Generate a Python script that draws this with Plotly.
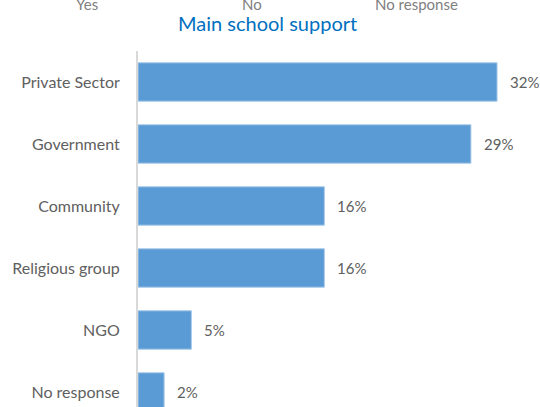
import plotly.graph_objects as go

categories = ["Private Sector", "Government", "Community", "Religious group", "NGO", "No response"]
values = [31.6, 29.3, 16.4, 16.4, 4.7, 2.3]
labels = ["32%", "29%", "16%", "16%", "5%", "2%"]
legend_items = ["Yes", "No", "No response"]
legend_x = [87, 252, 416]
title_text = "Main school support"

FONT = "Lato"
W, H = 540, 407
ML, MR, MT, MB = 138, 10, 51, 0
plot_w = W - ML - MR
plot_h = H - MT - MB
n_visible = plot_h / 62.0

fig = go.Figure()
fig.add_trace(go.Bar(
    y=categories, x=values, orientation="h",
    marker=dict(color="#5B9BD5", line=dict(color="#A9CBEA", width=1)),
    hoverinfo="skip",
))

annotations = []
for c, v, t in zip(categories, values, labels):
    annotations.append(dict(x=v, y=c, xref="x", yref="y", text=t, showarrow=False,
                            xanchor="left", yanchor="middle", xshift=11,
                            font=dict(family=FONT, size=15, color="#606060")))

annotations.append(dict(x=(267 - ML) / plot_w, xref="paper", xanchor="center",
                        y=1 + (MT - 23) / plot_h, yref="paper", yanchor="middle",
                        text=title_text, showarrow=False,
                        font=dict(family=FONT, size=20, color="#0070C0")))
for t, px in zip(legend_items, legend_x):
    annotations.append(dict(x=(px - ML) / plot_w, xref="paper", xanchor="center",
                            y=1 + (MT - 4) / plot_h, yref="paper", yanchor="middle",
                            text=t, showarrow=False,
                            font=dict(family=FONT, size=15, color="#808080")))

fig.update_layout(
    width=W, height=H,
    margin=dict(l=ML, r=MR, t=MT, b=MB, pad=0, autoexpand=False),
    paper_bgcolor="white", plot_bgcolor="white",
    showlegend=False,
    bargap=0.38,
    font=dict(family=FONT, size=16, color="#606060"),
    xaxis=dict(range=[0, 34.5], showgrid=False, zeroline=False, showticklabels=False,
               showline=False, fixedrange=True),
    yaxis=dict(type="category", range=[-0.5 + n_visible, -0.5], showgrid=False,
               zeroline=False, showline=True, linecolor="#D9D9D9", linewidth=2,
               ticks="outside", ticklen=13, tickcolor="rgba(0,0,0,0)", automargin=False,
               tickfont=dict(family=FONT, size=16, color="#606060"), fixedrange=True),
    annotations=annotations,
)

fig.write_html("out.html", config={"displayModeBar": False},
               post_script="document.body.style.margin='0';document.body.style.overflow='hidden';")
